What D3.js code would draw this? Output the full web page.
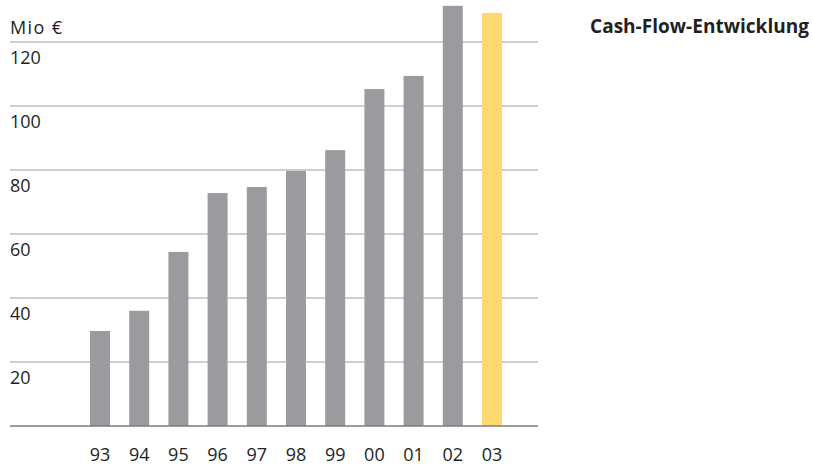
<!DOCTYPE html>
<html><head><meta charset="utf-8">
<script src="https://cdn.jsdelivr.net/npm/d3@7"></script>
<style>
html,body{margin:0;padding:0;background:#fff;}
svg{display:block;}
text{font-family:"Open Sans",sans-serif;fill:#231f20;}
</style></head>
<body>
<svg id="chart" width="813" height="466"></svg>
<script>
const years = ["93","94","95","96","97","98","99","00","01","02","03"];
const cashFlow = [29.7, 36.0, 54.4, 72.8, 74.7, 79.7, 86.2, 105.3, 109.4, 131.3, 129.1];
const highlightYear = "03";
const yTicks = [20, 40, 60, 80, 100, 120];
const unitLabel = "Mio €";
const title = "Cash-Flow-Entwicklung";

const svg = d3.select("#chart");
const gridLeft = 10, gridRight = 538;
const y = d3.scaleLinear().domain([0, 120]).range([426, 42]);
const x = d3.scaleBand().domain(years).range([80.4, 511.6]).paddingInner(0.49).paddingOuter(0.245);

// gridlines
svg.append("g").selectAll("line").data(yTicks).join("line")
  .attr("x1", gridLeft).attr("x2", gridRight)
  .attr("y1", d => y(d)).attr("y2", d => y(d))
  .attr("stroke", "#bfbfbf").attr("stroke-width", 1.6);

// y labels (below their gridline)
svg.append("g").selectAll("text").data(yTicks).join("text")
  .attr("x", gridLeft).attr("y", d => y(d) + 22)
  .attr("font-size", 18).text(d => d);

svg.append("text").attr("x", gridLeft).attr("y", y(120) - 8)
  .attr("font-size", 18).attr("textLength", 52).text(unitLabel);

// bars
svg.append("g").selectAll("rect").data(years).join("rect")
  .attr("x", d => x(d)).attr("width", x.bandwidth())
  .attr("y", (d, i) => y(cashFlow[i]))
  .attr("height", (d, i) => y(0) - y(cashFlow[i]))
  .attr("fill", d => d === highlightYear ? "#fdd86f" : "#9a9b9f");

// baseline
svg.append("line").attr("x1", gridLeft).attr("x2", gridRight)
  .attr("y1", y(0)).attr("y2", y(0))
  .attr("stroke", "#7d7d7d").attr("stroke-width", 1.6);

// x axis labels
const xAxis = svg.append("g").attr("transform", "translate(0,461)")
  .call(d3.axisBottom(x).tickSize(0).tickPadding(0));
xAxis.select(".domain").remove();
xAxis.selectAll("text").attr("font-size", 18).attr("font-family", "Open Sans, sans-serif")
  .attr("fill", "#231f20").attr("y", 0).attr("dy", 0);

// title
svg.append("text").attr("x", 590).attr("y", 33)
  .attr("font-size", 19).attr("font-weight", "bold").attr("textLength", 219).text(title);
</script>
</body></html>
